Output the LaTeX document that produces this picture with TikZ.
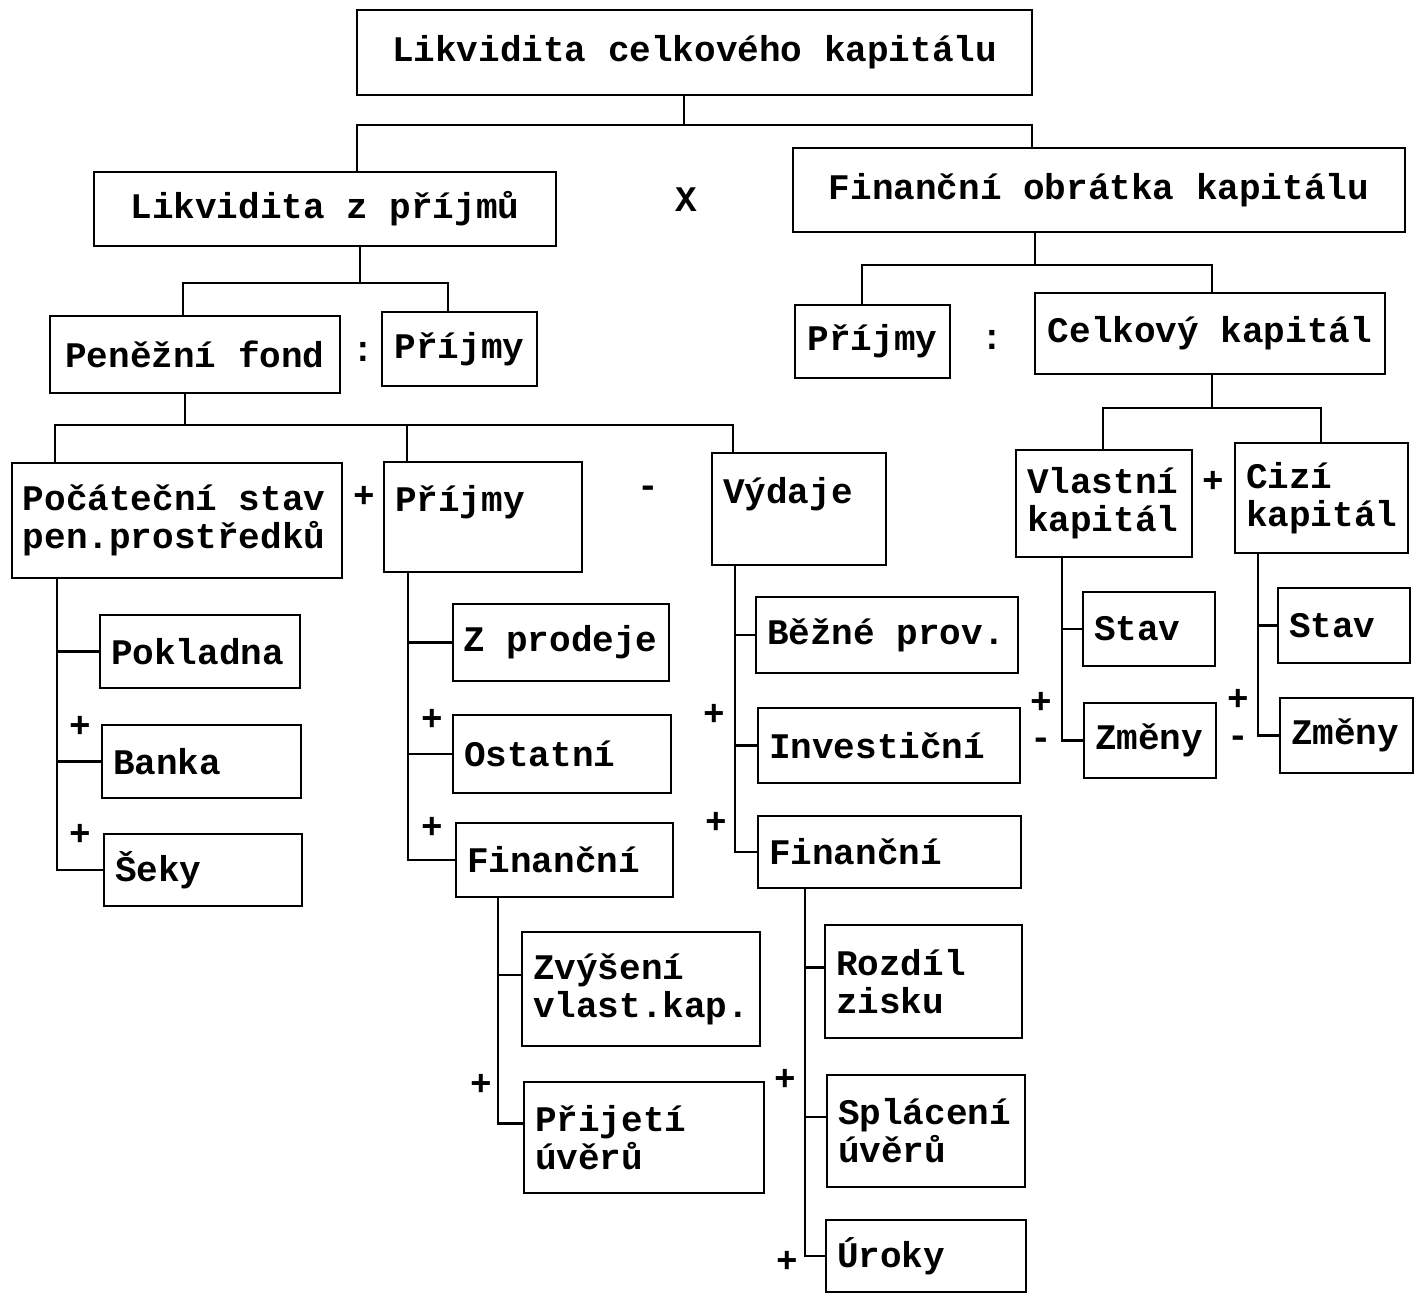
\documentclass[tikz,border=0pt]{standalone}
\usepackage{fontspec}
\usepackage{tikz}
\newfontfamily\boxfont{Liberation Mono}
\tikzset{
  txt/.style = {font=\boxfont\bfseries\fontsize{36}{38}\selectfont,
    execute at begin node={\spaceskip=0.6em\xspaceskip=0.6em\relax}},
  box/.style = {txt, draw, line width=2.4pt, inner xsep=11pt, inner ysep=0pt, align=left},
  sign/.style = {txt, inner sep=0pt},
  link/.style = {line width=2.4pt}
}
\begin{document}
\begin{tikzpicture}[x=1pt, y=-1pt]
\useasboundingbox (0,0) rectangle (1416,1295);
% top levels
\node (top) at (694.5,52.5) [box, text width=653pt, minimum height=85pt, align=center] {Likvidita celkového kapitálu};
\node (lzp) at (325,209) [box, text width=440pt, minimum height=74pt, align=center] {Likvidita z příjmů};
\node (fok) at (1099,190) [box, text width=590pt, minimum height=84pt, align=center] {Finanční obrátka kapitálu};
\node (krat) at (686,200) [sign] {X};
\node (pf) at (195,354.5) [box, text width=268pt, minimum height=77pt, align=center] {Peněžní fond};
\node (pa) at (459.5,349) [box, text width=133pt, minimum height=74pt, align=center] {Příjmy};
\node (del1) at (363,352) [sign] {:};
\node (pb) at (872.5,341.5) [box, text width=133pt, minimum height=73pt, align=center] {Příjmy};
\node (ck) at (1210,333.5) [box, text width=328pt, minimum height=81pt, align=center] {Celkový kapitál};
\node (del2) at (992,340) [sign] {:};
% third level
\node (ps) at (177,520.5) [box, text width=308pt, minimum height=115pt] {Počáteční stav\\pen.prostředků};
\node (pc) at (483,517) [box, text width=176pt, minimum height=110pt] {Příjmy\\\mbox{}};
\node (vy) at (799,509) [box, text width=152pt, minimum height=112pt] {Výdaje\\\mbox{}};
\node (plus1) at (364,497) [sign] {+};
\node (minus1) at (648,492) [sign] {-};
\node (vk) at (1104,503.5) [box, text width=154pt, minimum height=107pt] {Vlastní\\kapitál};
\node (cz) at (1321.5,498) [box, text width=151pt, minimum height=110pt] {Cizí\\kapitál};
\node (plus2) at (1213,482) [sign] {+};
% leaves
\node (pok) at (200,651.5) [box, text width=178pt, minimum height=73pt] {Pokladna};
\node (ban) at (201.5,761.5) [box, text width=177pt, minimum height=73pt] {Banka};
\node (sek) at (203,870) [box, text width=176pt, minimum height=72pt] {Šeky};
\node (zpr) at (561,642.5) [box, inner xsep=10pt, text width=196pt, minimum height=77pt] {Z prodeje};
\node (ost) at (562,754) [box, text width=196pt, minimum height=78pt] {Ostatní};
\node (fin1) at (564.5,860) [box, text width=195pt, minimum height=74pt] {Finanční};
\node (bez) at (887,635) [box, text width=240pt, minimum height=76pt] {Běžné prov.};
\node (inv) at (889,745.5) [box, text width=240pt, minimum height=75pt] {Investiční};
\node (fin2) at (889.5,852) [box, text width=241pt, minimum height=72pt] {Finanční};
\node (zvy) at (641,989) [box, text width=216pt, minimum height=114pt] {Zvýšení\\vlast.kap.};
\node (pri) at (644,1137.5) [box, text width=218pt, minimum height=111pt] {Přijetí\\úvěrů};
\node (roz) at (923.5,981.5) [box, text width=175pt, minimum height=113pt] {Rozdíl\\zisku};
\node (spl) at (926,1131) [box, text width=176pt, minimum height=112pt] {Splácení\\úvěrů};
\node (uro) at (926,1256) [box, text width=178pt, minimum height=72pt] {Úroky};
\node (st1) at (1149,629) [box, text width=110pt, minimum height=74pt] {Stav};
\node (zm1) at (1150,740.5) [box, text width=110pt, minimum height=75pt] {Změny};
\node (st2) at (1344,625.5) [box, text width=110pt, minimum height=75pt] {Stav};
\node (zm2) at (1346.5,735.5) [box, text width=111pt, minimum height=75pt] {Změny};
% signs between leaves
\node (s1) at (80,727) [sign] {+};
\node (s2) at (80,835) [sign] {+};
\node (s3) at (432,720) [sign] {+};
\node (s4) at (432,828) [sign] {+};
\node (s5) at (714,715) [sign] {+};
\node (s6) at (716,823) [sign] {+};
\node (s7) at (481,1085) [sign] {+};
\node (s8) at (785,1080) [sign] {+};
\node (s9) at (787,1262) [sign] {+};
\node (s10) at (1041,703) [sign] {+};
\node (s11) at (1041,744) [sign] {-};
\node (s12) at (1238,700) [sign] {+};
\node (s13) at (1238,742) [sign] {-};
% joints
\coordinate (j1) at (684,125);
\coordinate (j1l) at (357,125);
\coordinate (j1r) at (1032,125);
\coordinate (j2) at (360,283);
\coordinate (j2l) at (183,283);
\coordinate (j2r) at (448,283);
\coordinate (k2) at (1035,265);
\coordinate (k2l) at (862,265);
\coordinate (k2r) at (1212,265);
\coordinate (j3) at (185,425);
\coordinate (j3l) at (55,425);
\coordinate (j3m) at (407,425);
\coordinate (j3r) at (733,425);
\coordinate (k3) at (1212,408);
\coordinate (k3l) at (1103,408);
\coordinate (k3r) at (1321,408);
\coordinate (tA) at (57,0);
\coordinate (tB) at (408,0);
\coordinate (tC) at (735,0);
\coordinate (tD) at (498,0);
\coordinate (tE) at (805,0);
\coordinate (tF) at (1062,0);
\coordinate (tG) at (1258,0);
\coordinate (zvyin) at ([yshift=14pt]zvy.west);
\coordinate (priin) at ([yshift=14pt]pri.west);
\coordinate (rozin) at ([yshift=14pt]roz.west);
\coordinate (splin) at ([yshift=14pt]spl.west);
% connectors
\draw[link] (j1 |- top.south) -- (j1);
\draw[link] (j1l |- lzp.north) -- (j1l) -- (j1r) -- (j1r |- fok.north);
\draw[link] (j2 |- lzp.south) -- (j2);
\draw[link] (j2l |- pf.north) -- (j2l) -- (j2r) -- (j2r |- pa.north);
\draw[link] (k2 |- fok.south) -- (k2);
\draw[link] (k2l |- pb.north) -- (k2l) -- (k2r) -- (k2r |- ck.north);
\draw[link] (j3 |- pf.south) -- (j3);
\draw[link] (j3l |- ps.north) -- (j3l) -- (j3r) -- (j3r |- vy.north);
\draw[link] (j3m) -- (j3m |- pc.north);
\draw[link] (k3 |- ck.south) -- (k3);
\draw[link] (k3l |- vk.north) -- (k3l) -- (k3r) -- (k3r |- cz.north);
\draw[link] (tA |- ps.south) |- (sek.west);
\foreach \n in {pok,ban} \draw[link] (tA |- \n.west) -- (\n.west);
\draw[link] (tB |- pc.south) |- (fin1.west);
\foreach \n in {zpr,ost} \draw[link] (tB |- \n.west) -- (\n.west);
\draw[link] (tC |- vy.south) |- (fin2.west);
\foreach \n in {bez,inv} \draw[link] (tC |- \n.west) -- (\n.west);
\draw[link] (tD |- fin1.south) |- (priin);
\draw[link] (tD |- zvyin) -- (zvyin);
\draw[link] (tE |- fin2.south) |- (uro.west);
\foreach \n in {rozin,splin} \draw[link] (tE |- \n) -- (\n);
\draw[link] (tF |- vk.south) |- (zm1.west);
\draw[link] (tF |- st1.west) -- (st1.west);
\draw[link] (tG |- cz.south) |- (zm2.west);
\draw[link] (tG |- st2.west) -- (st2.west);
\end{tikzpicture}
\end{document}
